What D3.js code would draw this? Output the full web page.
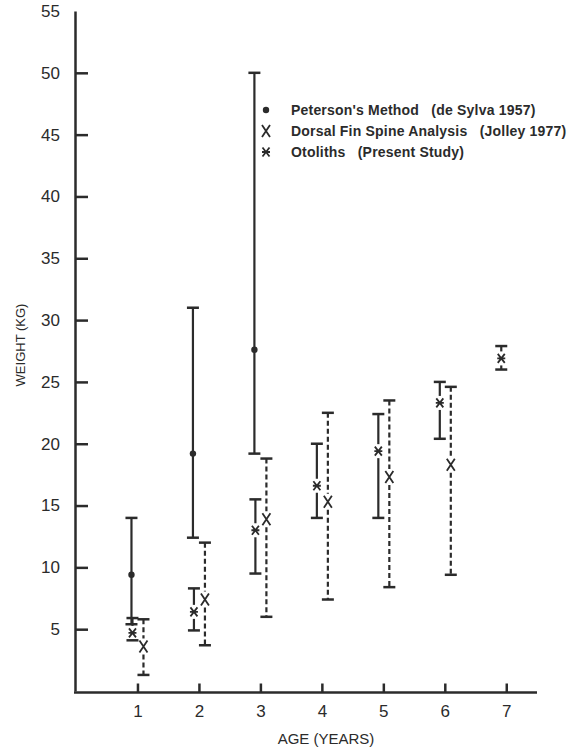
<!DOCTYPE html>
<meta charset="utf-8">
<style>
body { margin: 0; background: #fff; }
svg { display: block; }
text { fill: #2b2b2b; font-family: "Liberation Sans", Arial, sans-serif; }
.axis path, .axis line { stroke: #2b2b2b; stroke-width: 2.5px; }
.bar { stroke: #2b2b2b; stroke-width: 2.2px; fill: none; }
.legend text { font-family: "Liberation Sans Narrow", "Liberation Sans", sans-serif; font-weight: bold; font-size: 14px; letter-spacing: 0.2px; white-space: pre; }
</style>
<svg width="573" height="747"></svg>
<script src="https://d3js.org/d3.v7.min.js"></script>
<script>

// ages on the x axis
var ages = [1, 2, 3, 4, 5, 6, 7];

// Peterson's Method (de Sylva 1957), ages 1-3
var petAges = [1, 2, 3];
var petMean = [9.4, 19.2, 27.6];
var petLow  = [5.4, 12.4, 19.2];
var petHigh = [14.0, 31.0, 50.0];

// Dorsal Fin Spine Analysis (Jolley 1977), ages 1-6
var dorAges = [1, 2, 3, 4, 5, 6];
var dorMean = [3.6, 7.4, 13.9, 15.3, 17.3, 18.3];
var dorLow  = [1.3, 3.7, 6.0, 7.4, 8.4, 9.4];
var dorHigh = [5.8, 12.0, 18.8, 22.5, 23.5, 24.6];

// Otoliths (Present Study), ages 1-7
var otoAges = [1, 2, 3, 4, 5, 6, 7];
var otoMean = [4.7, 6.4, 13.0, 16.6, 19.4, 23.3, 26.9];
var otoLow  = [4.1, 4.9, 9.5, 14.0, 14.0, 20.4, 26.0];
var otoHigh = [5.9, 8.3, 15.5, 20.0, 22.4, 25.0, 27.9];

var yTicks = [5, 10, 15, 20, 25, 30, 35, 40, 45, 50, 55];

var legendLabels = [
  "Peterson's Method   (de Sylva 1957)",
  "Dorsal Fin Spine Analysis   (Jolley 1977)",
  "Otoliths   (Present Study)"
];

var svg = d3.select("svg");

var x = d3.scaleLinear().domain([0, 7.5]).range([76, 537]);
var y = d3.scaleLinear().domain([0, 55]).range([691, 11]);

// y axis, ticks pointing inward
var yAxis = svg.append("g")
    .attr("class", "axis")
    .attr("transform", "translate(75,0)")
    .call(d3.axisLeft(y).tickValues(yTicks).tickFormat(d3.format("d"))
      .tickSizeInner(-13).tickSizeOuter(0).tickPadding(15));
yAxis.selectAll(".tick").filter(function(d) { return d === 55; })
    .select("line").remove();

// x axis
var xAxis = svg.append("g")
    .attr("class", "axis")
    .attr("transform", "translate(0,692.5)")
    .call(d3.axisBottom(x).tickValues(ages).tickFormat(d3.format("d"))
      .tickSizeInner(-9).tickSizeOuter(0).tickPadding(12));
xAxis.select(".domain").attr("d", "M" + (x(0) - 2) + ",0H" + x(7.5));
svg.selectAll(".axis .tick text").attr("font-size", 17).attr("fill", "#2b2b2b");

svg.append("text")
    .attr("x", 326).attr("y", 744)
    .attr("text-anchor", "middle")
    .attr("font-size", 15)
    .text("AGE (YEARS)");

svg.append("text")
    .attr("transform", "translate(25,345) rotate(-90)")
    .attr("text-anchor", "middle")
    .attr("font-size", 13)
    .text("WEIGHT (KG)");

// helpers
function rows(a, m, lo, hi) {
  return a.map(function(d, i) { return {age: d, mean: m[i], low: lo[i], high: hi[i]}; });
}

function drawSeries(data, offset, dashed, gap, marker) {
  var g = svg.append("g");
  data.forEach(function(d) {
    var cx = x(d.age) + offset;
    var yt = y(d.high), yb = y(d.low), ym = y(d.mean);
    var cap = 6;
    // caps
    g.append("line").attr("class", "bar")
      .attr("x1", cx - cap).attr("x2", cx + cap).attr("y1", yt).attr("y2", yt)
      .style("stroke-width", 2.5);
    g.append("line").attr("class", "bar")
      .attr("x1", cx - cap).attr("x2", cx + cap).attr("y1", yb).attr("y2", yb)
      .style("stroke-width", 2.5);
    // stems, broken around the marker
    var segs = gap > 0 ? [[yt, ym - gap], [ym + gap, yb]] : [[yt, yb]];
    segs.forEach(function(s) {
      if (s[1] - s[0] <= 0) return;
      g.append("line").attr("class", "bar")
        .attr("x1", cx).attr("x2", cx).attr("y1", s[0]).attr("y2", s[1])
        .style("stroke-dasharray", dashed ? "5,3" : null);
    });
    marker(g, cx, ym);
  });
}

function dot(g, cx, cy) {
  g.append("circle").attr("cx", cx).attr("cy", cy).attr("r", 3.2).attr("fill", "#2b2b2b");
}
function cross(g, cx, cy) {
  g.append("path").attr("class", "bar")
    .attr("d", "M" + (cx - 4) + "," + (cy - 6) + "L" + (cx + 4) + "," + (cy + 6) +
               "M" + (cx + 4) + "," + (cy - 6) + "L" + (cx - 4) + "," + (cy + 6))
    .style("stroke-width", 1.8);
}
function star(g, cx, cy) {
  g.append("path").attr("class", "bar")
    .attr("d", "M" + (cx - 3.5) + "," + (cy - 4.5) + "L" + (cx + 3.5) + "," + (cy + 4.5) +
               "M" + (cx + 3.5) + "," + (cy - 4.5) + "L" + (cx - 3.5) + "," + (cy + 4.5) +
               "M" + (cx - 4) + "," + cy + "L" + (cx + 4) + "," + cy)
    .style("stroke-width", 1.8);
}

drawSeries(rows(petAges, petMean, petLow, petHigh), -6, false, 0, dot);
drawSeries(rows(otoAges, otoMean, otoLow, otoHigh), -5, false, 7, star);
drawSeries(rows(dorAges, dorMean, dorLow, dorHigh), 6, true, 8, cross);

// legend
var legend = svg.append("g").attr("class", "legend");
var markers = [dot, cross, star];
legendLabels.forEach(function(t, i) {
  var ly = 110 + i * 21;
  markers[i](legend, 266, ly);
  legend.append("text").attr("x", 291).attr("y", ly + 5).text(t);
});

</script>
